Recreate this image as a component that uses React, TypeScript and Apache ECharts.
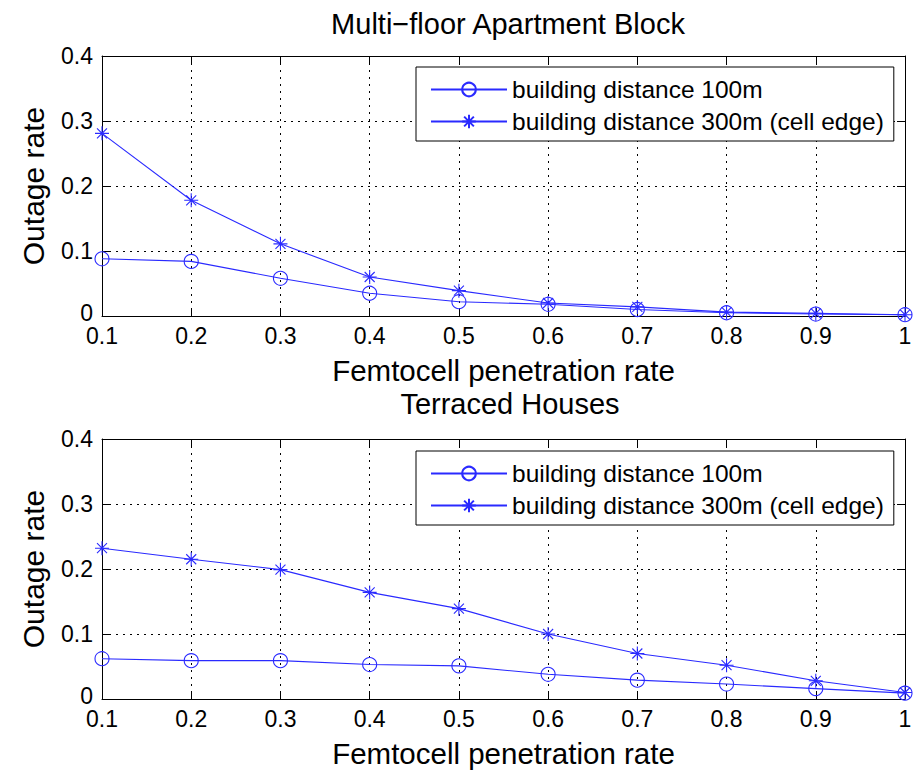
import React, { useEffect, useRef } from "react";
import * as echarts from "echarts";

const penetration = [0.1, 0.2, 0.3, 0.4, 0.5, 0.6, 0.7, 0.8, 0.9, 1.0];

// Multi-floor Apartment Block
const aptDist100 = [0.088, 0.084, 0.058, 0.035, 0.022, 0.018, 0.010, 0.005, 0.003, 0.002];
const aptDist300 = [0.281, 0.178, 0.111, 0.060, 0.039, 0.020, 0.014, 0.006, 0.004, 0.002];

// Terraced Houses
const terDist100 = [0.062, 0.059, 0.059, 0.053, 0.051, 0.038, 0.029, 0.023, 0.016, 0.009];
const terDist300 = [0.232, 0.215, 0.199, 0.164, 0.139, 0.100, 0.070, 0.052, 0.028, 0.010];

const seriesNames = ["building distance 100m", "building distance 300m (cell edge)"];
const titles = ["Multi\u2212floor Apartment Block", "Terraced Houses"];
const xAxisTitle = "Femtocell penetration rate";
const yAxisTitle = "Outage rate";

const FONT = "'Liberation Sans', Arial, Helvetica, sans-serif";
const BLUE = "#2a2aff";
const STAR = "path://M7 0L7 14M0 7L14 7M2 2L12 12M2 12L12 2";

export default function App() {
  const ref = useRef<HTMLDivElement>(null);

  useEffect(() => {
    if (!ref.current) return;
    const chart = echarts.init(ref.current, undefined, { renderer: "svg" });

    const grids = [
      { left: 102, top: 56, width: 803, height: 260 },
      { left: 102, top: 439, width: 803, height: 260 },
    ];

    const fmt = (v: number) => String(Number(v.toFixed(1)));
    const yFmt = (v: number) => (v === 0 ? "{z|0}" : fmt(v));
    const tickStyle = { show: true, inside: true, length: 8, lineStyle: { color: "#000", width: 1 } };
    const axisLine = { show: true, onZero: false, lineStyle: { color: "#000", width: 1 } };
    const gridLine = { show: true, lineStyle: { color: "#000", width: 1, type: [2, 5] } };

    const xAxes: any[] = [];
    const yAxes: any[] = [];
    grids.forEach((_, g) => {
      xAxes.push({
        type: "value",
        gridIndex: g,
        position: "bottom",
        min: 0.1,
        max: 1,
        interval: 0.1,
        axisLine,
        axisTick: tickStyle,
        splitLine: gridLine,
        axisLabel: {
          color: "#000",
          fontSize: 23,
          lineHeight: 18,
          fontFamily: FONT,
          margin: 11,
          formatter: fmt,
        },
        name: xAxisTitle,
        nameLocation: "middle",
        nameGap: 39,
        nameTextStyle: { color: "#000", fontSize: 29.5, fontFamily: FONT },
      });
      xAxes.push({
        type: "value",
        gridIndex: g,
        position: "top",
        min: 0.1,
        max: 1,
        interval: 0.1,
        axisLine,
        axisTick: tickStyle,
        splitLine: { show: false },
        axisLabel: { show: false },
      });
      yAxes.push({
        type: "value",
        gridIndex: g,
        position: "left",
        min: 0,
        max: 0.4,
        interval: 0.1,
        axisLine,
        axisTick: tickStyle,
        splitLine: gridLine,
        axisLabel: {
          color: "#000",
          fontSize: 23,
          lineHeight: 18,
          fontFamily: FONT,
          margin: 9,
          formatter: yFmt,
          rich: {
            z: {
              color: "#000",
              fontSize: 23,
              lineHeight: 18,
              fontFamily: FONT,
              padding: [0, 0, 6, 0],
            },
          },
        },
        name: yAxisTitle,
        nameLocation: "middle",
        nameGap: 54,
        nameTextStyle: { color: "#000", fontSize: 30, fontFamily: FONT },
      });
      yAxes.push({
        type: "value",
        gridIndex: g,
        position: "right",
        min: 0,
        max: 0.4,
        interval: 0.1,
        axisLine,
        axisTick: tickStyle,
        splitLine: { show: false },
        axisLabel: { show: false },
      });
    });

    const pairs = (ys: number[]) => penetration.map((x, i) => [x, ys[i]]);
    const mkSeries = (name: string, data: number[], g: number, star: boolean) => ({
      type: "line",
      name,
      xAxisIndex: g * 2,
      yAxisIndex: g * 2,
      data: pairs(data),
      symbol: star ? STAR : "circle",
      symbolSize: 14,
      showAllSymbol: true,
      lineStyle: { color: BLUE, width: 1.1 },
      itemStyle: { color: "transparent", borderColor: BLUE, borderWidth: 1.1 },
      emphasis: { disabled: true },
    });

    const legendCommon = {
      orient: "vertical",
      left: 416,
      itemWidth: 76,
      itemHeight: 17,
      itemGap: 7,
      padding: [10, 10, 7, 14],
      borderColor: "#000",
      borderWidth: 1,
      backgroundColor: "#fff",
      borderRadius: 0,
      selectedMode: false,
      textStyle: { color: "#000", fontSize: 24.5, fontFamily: FONT, lineHeight: 24 },
      data: seriesNames,
    };

    const titleStyle = { color: "#000", fontSize: 29, fontWeight: "normal", fontFamily: FONT };

    chart.setOption({
      animation: false,
      backgroundColor: "#fff",
      title: [
        { text: titles[0], left: 503, top: 4, textAlign: "center", textStyle: titleStyle },
        { text: titles[1], left: 505, top: 384, textAlign: "center", textStyle: titleStyle },
      ],
      legend: [
        { ...legendCommon, top: 67 },
        { ...legendCommon, top: 451 },
      ],
      grid: grids,
      xAxis: xAxes,
      yAxis: yAxes,
      series: [
        mkSeries(seriesNames[0], aptDist100, 0, false),
        mkSeries(seriesNames[1], aptDist300, 0, true),
        mkSeries(seriesNames[0], terDist100, 1, false),
        mkSeries(seriesNames[1], terDist300, 1, true),
      ],
    });

    return () => chart.dispose();
  }, []);

  return (
    <div
      ref={ref}
      style={{ position: "fixed", left: 0, top: 0, width: 923, height: 771, background: "#fff" }}
    />
  );
}
